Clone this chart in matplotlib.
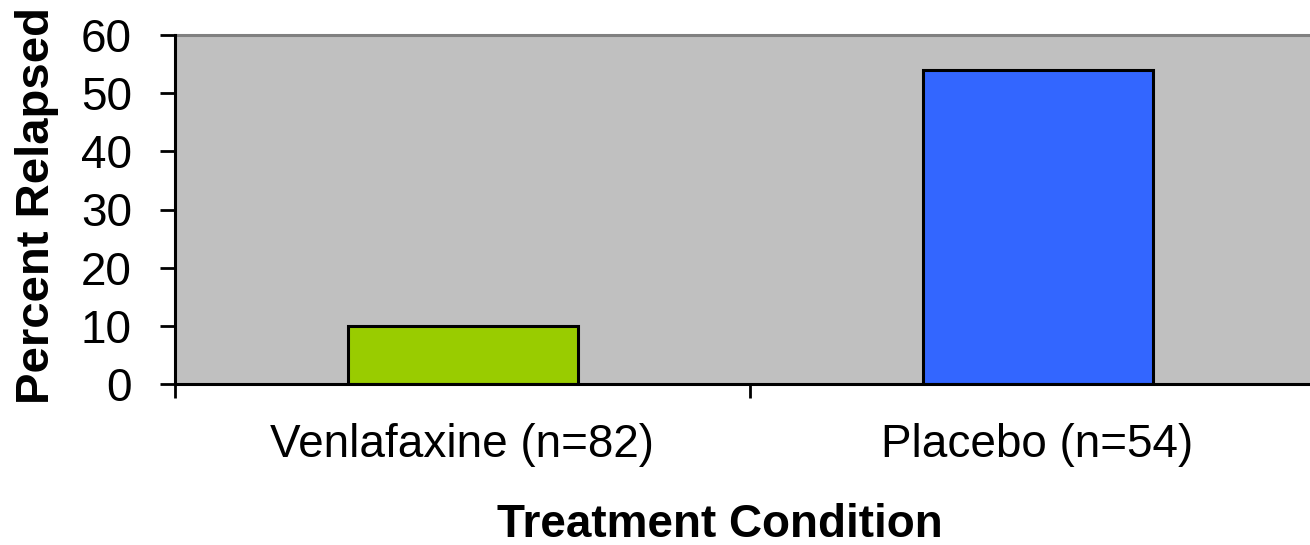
import matplotlib
matplotlib.use("Agg")
import matplotlib.pyplot as plt
import numpy as np

categories = ["Venlafaxine (n=82)", "Placebo (n=54)"]
values = [10, 54]
colors = ["#99CC00", "#3366FF"]
yticks = [0, 10, 20, 30, 40, 50, 60]

plt.rcParams['font.family'] = ['Liberation Sans', 'DejaVu Sans']

W, H = 1310, 545
fig = plt.figure(figsize=(W / 100, H / 100), dpi=100)
left, right, top, bottom = 175, 1325, 35, 384
ax = fig.add_axes([left / W, 1 - bottom / H, (right - left) / W, (bottom - top) / H])
ax.set_facecolor("#C0C0C0")

x = np.arange(len(categories))
ax.bar(x, values, width=0.4, color=colors, edgecolor="black", linewidth=2.2, zorder=3)

ax.set_xlim(-0.5, 1.5)
ax.set_ylim(0, 60)
ax.set_yticks(yticks)
ax.set_yticklabels([str(v) for v in yticks], fontsize=33)
ax.tick_params(axis='y', length=11, width=2, pad=20, color='black')

ax.set_xticks(x)
ax.set_xticklabels(categories, fontsize=33)
ax.set_xticks([-0.5, 0.5, 1.5], minor=True)
ax.tick_params(axis='x', which='major', length=0, pad=28)
ax.tick_params(axis='x', which='minor', length=10, width=2, color='black')

for s in ['left', 'bottom']:
    ax.spines[s].set_linewidth(2.2)
    ax.spines[s].set_color('black')
    ax.spines[s].set_zorder(4)
ax.spines['top'].set_color('#808080')
ax.spines['top'].set_linewidth(2.2)
ax.spines['right'].set_visible(False)

fig.text(720 / W, 1 - 525 / H, "Treatment Condition", fontsize=33, fontweight='bold',
         ha='center', va='center')
fig.text(37 / W, 1 - 206 / H, "Percent Relapsed", fontsize=34, fontweight='bold',
         ha='center', va='center', rotation=90)

fig.savefig("out.png", dpi=100)
